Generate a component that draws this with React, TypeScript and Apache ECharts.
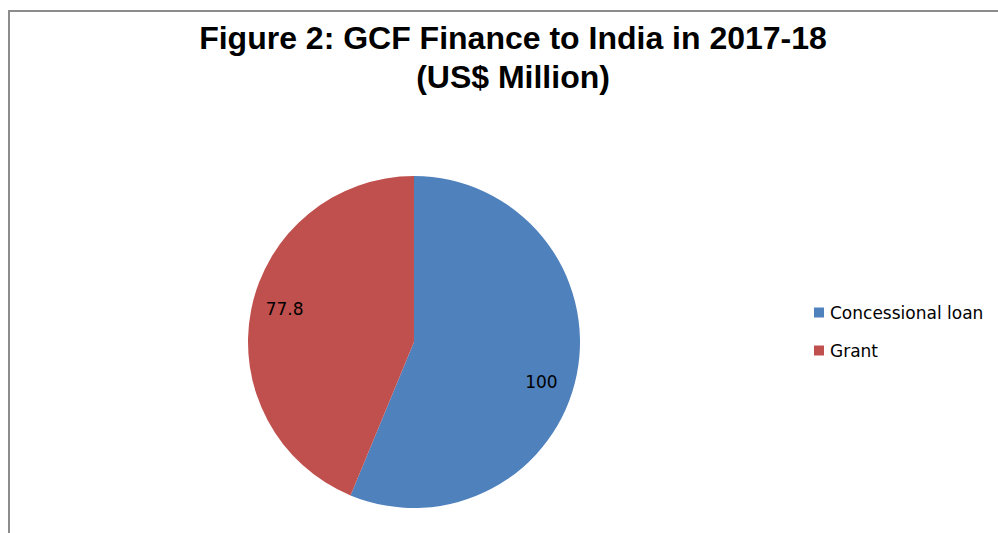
import React, { useEffect, useRef } from "react";
import * as echarts from "echarts";

const titleLines = ["Figure 2: GCF Finance to India in 2017-18", "(US$ Million)"];
const categories = ["Concessional loan", "Grant"];
const values = [100, 77.8];
const colors = ["#4F81BD", "#C0504D"];
const labelOffsets: [number, number][] = [[43, 23], [-45, -16]];

export default function App() {
  const ref = useRef<HTMLDivElement>(null);
  useEffect(() => {
    if (!ref.current) return;
    const chart = echarts.init(ref.current, null, { renderer: "svg" });
    chart.setOption({
      animation: false,
      backgroundColor: "#fff",
      title: {
        text: titleLines.join("\n"),
        left: 508,
        textAlign: "center",
        top: 13,
        textStyle: {
          fontFamily: "Liberation Sans, Arial, sans-serif",
          fontWeight: "bold",
          fontSize: 32,
          lineHeight: 39,
          color: "#000",
        },
      },
      legend: {
        orient: "vertical",
        left: 809,
        top: 299,
        itemWidth: 10,
        itemHeight: 10,
        itemGap: 21,
        icon: "rect",
        data: categories,
        textStyle: {
          fontFamily: "DejaVu Sans, sans-serif",
          fontSize: 17,
          color: "#000",
          padding: [0, 0, 0, 1],
        },
      },
      graphic: [
        {
          type: "polyline",
          shape: { points: [[9, 540], [9, 11], [1005, 11]] },
          style: { stroke: "#8c8c8c", lineWidth: 2, fill: "none" },
          silent: true,
        },
      ],
      series: [
        {
          type: "pie",
          center: [414, 342],
          radius: [0, 166],
          startAngle: 90,
          clockwise: true,
          avoidLabelOverlap: false,
          label: {
            show: true,
            position: "inside",
            formatter: "{c}",
            fontFamily: "DejaVu Sans, sans-serif",
            fontSize: 17,
            color: "#000",
          },
          labelLine: { show: false },
          emphasis: { disabled: true },
          itemStyle: { borderWidth: 0 },
          data: categories.map((name, i) => ({
            name,
            value: values[i],
            itemStyle: { color: colors[i] },
            label: { offset: labelOffsets[i] },
          })),
        },
      ],
    });
    return () => chart.dispose();
  }, []);
  return (
    <div
      ref={ref}
      style={{ position: "fixed", left: 0, top: 0, width: 998, height: 533 }}
    />
  );
}
